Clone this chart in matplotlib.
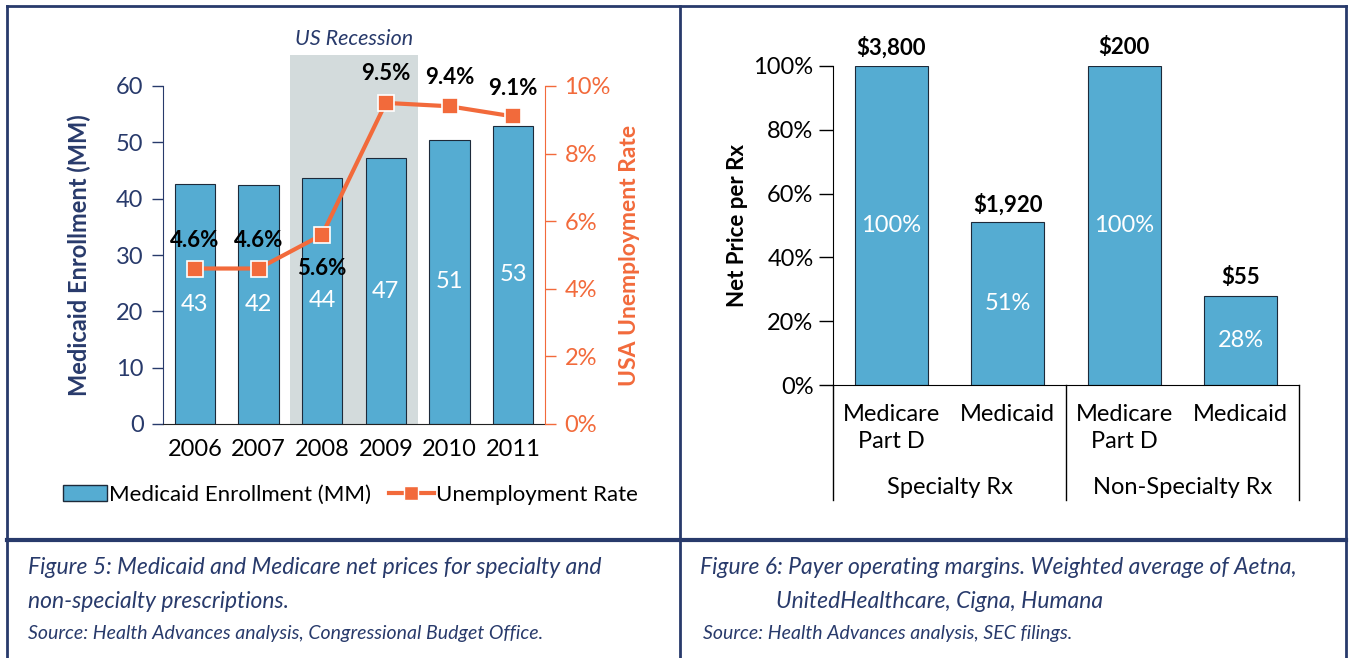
import matplotlib
matplotlib.use("Agg")
import matplotlib.pyplot as plt
from matplotlib.lines import Line2D
from matplotlib.patches import Rectangle
import matplotlib.transforms as mtransforms

plt.rcParams["font.family"] = ["Lato", "DejaVu Sans"]

# ---- data: figure 5 (left) ----
YEARS = ["2006", "2007", "2008", "2009", "2010", "2011"]
ENROLLMENT_MM = [42.6, 42.4, 43.7, 47.2, 50.5, 52.9]
ENROLLMENT_LABELS = ["43", "42", "44", "47", "51", "53"]
UNEMPLOYMENT = [4.6, 4.6, 5.6, 9.5, 9.4, 9.1]
UNEMP_LABEL_OFFSET = [20, 20, -24, 21, 21, 20]  # points, + above marker, - below
RECESSION_SPAN = (1.5, 3.5)

# ---- data: figure 6 (right) ----
PAYERS = ["Medicare\nPart D", "Medicaid", "Medicare\nPart D", "Medicaid"]
NET_PRICE_PCT = [100, 51, 100, 28]
PRICE_LABELS = ["$3,800", "$1,920", "$200", "$55"]
GROUPS = ["Specialty Rx", "Non-Specialty Rx"]

NAVY = "#283A6B"
BLUE = "#55ACD2"
ORANGE = "#F26A3B"
GREY_BAND = "#D3DBDC"

W, H = 1351, 658
fig = plt.figure(figsize=(W / 100, H / 100), dpi=100)


def px_axes(x0, y0, x1, y1):
    return fig.add_axes([x0 / W, 1 - y1 / H, (x1 - x0) / W, (y1 - y0) / H])


# ================= left panel =================
ax = px_axes(163, 86, 545, 424)
x = list(range(len(YEARS)))
ax.axvspan(*RECESSION_SPAN, ymin=0, ymax=(424 - 55) / (424 - 86), color=GREY_BAND,
           zorder=0, clip_on=False, lw=0)
ax.text(sum(RECESSION_SPAN) / 2, (424 - 39) / (424 - 86), "US Recession",
        transform=ax.get_xaxis_transform(), ha="center", va="center", style="italic",
        fontsize=15.5, color=NAVY)
ax.bar(x, ENROLLMENT_MM, width=0.63, color=BLUE, edgecolor="#1d2a3a", linewidth=0.8,
       zorder=2)
for xi, v, lab in zip(x, ENROLLMENT_MM, ENROLLMENT_LABELS):
    ax.text(xi, v / 2, lab, ha="center", va="center", color="white", fontsize=17, zorder=3)
ax.set_xlim(-0.5, len(YEARS) - 0.5)
ax.set_ylim(0, 60)
ax.set_yticks(range(0, 61, 10))
ax.set_xticks(x)
ax.set_xticklabels(YEARS, fontsize=17, color="black")
ax.tick_params(axis="x", length=0, pad=11)
ax.tick_params(axis="y", colors=NAVY, labelsize=17, length=8, width=1, direction="out", pad=6)
for s in ["top", "right"]:
    ax.spines[s].set_visible(False)
ax.spines["left"].set_color(NAVY)
ax.spines["bottom"].set_color("#222222")
ax.set_ylabel("Medicaid Enrollment (MM)", fontsize=17, fontweight="bold", color=NAVY,
              labelpad=18)

ax2 = ax.twinx()
ax2.plot(x, UNEMPLOYMENT, color=ORANGE, lw=3, marker="s", markersize=11,
         markerfacecolor=ORANGE, markeredgecolor="white", markeredgewidth=1.2, zorder=4)
for xi, v, off in zip(x, UNEMPLOYMENT, UNEMP_LABEL_OFFSET):
    ax2.annotate(f"{v:.1f}%", (xi, v), xytext=(0, off), textcoords="offset points",
                 ha="center", va="center", fontsize=16, fontweight="bold", color="black")
ax2.set_ylim(0, 10)
ax2.set_yticks(range(0, 11, 2))
ax2.set_yticklabels([f"{t}%" for t in range(0, 11, 2)])
ax2.tick_params(axis="y", colors=ORANGE, labelsize=17, length=8, width=1, pad=6)
for s in ["top", "left", "bottom"]:
    ax2.spines[s].set_visible(False)
ax2.spines["right"].set_color(ORANGE)
ax2.set_ylabel("USA Unemployment Rate", fontsize=16.5, fontweight="bold", color=ORANGE,
               labelpad=6)

handles = [
    Rectangle((0, 0), 1, 1, facecolor=BLUE, edgecolor="#1d2a3a", linewidth=1),
    Line2D([0], [0], color=ORANGE, lw=3, marker="s", markersize=10,
           markerfacecolor=ORANGE, markeredgecolor="white"),
]
ax.legend(handles, ["Medicaid Enrollment (MM)", "Unemployment Rate"], loc="center",
          bbox_to_anchor=(0.49, -0.21), ncol=2, frameon=False, fontsize=16,
          handlelength=2.0, handletextpad=0.1, columnspacing=0.8)

# ================= right panel =================
bx = px_axes(833, 66, 1299, 385)
xr = list(range(len(PAYERS)))
bx.bar(xr, NET_PRICE_PCT, width=0.63, color=BLUE, edgecolor="#1d2a3a", linewidth=0.8,
       zorder=2)
for xi, v, lab in zip(xr, NET_PRICE_PCT, PRICE_LABELS):
    bx.text(xi, v / 2, f"{v}%", ha="center", va="center", color="white", fontsize=17)
    bx.annotate(lab, (xi, v), xytext=(0, 13), textcoords="offset points", ha="center",
                va="center", fontsize=16, fontweight="bold", color="black")
bx.set_xlim(-0.5, len(PAYERS) - 0.5)
bx.set_ylim(0, 100)
bx.set_yticks(range(0, 101, 20))
bx.set_yticklabels([f"{t}%" for t in range(0, 101, 20)])
bx.tick_params(axis="y", labelsize=17, length=10, width=1, pad=4, colors="black")
bx.set_xticks(xr)
bx.set_xticklabels(PAYERS, fontsize=17, linespacing=1.35, va="top")
bx.tick_params(axis="x", length=0, pad=14)
for s in ["top", "right"]:
    bx.spines[s].set_visible(False)
bx.set_ylabel("Net Price per Rx", fontsize=16, fontweight="bold", color="black", labelpad=4)

trans = mtransforms.blended_transform_factory(bx.transData, bx.transAxes)
depth = -(500 - 385) / (385 - 66)
for gx in [-0.5, 1.5, 3.5]:
    bx.plot([gx, gx], [0, depth], transform=trans, color="black", lw=1, clip_on=False)
for gi, g in enumerate(GROUPS):
    bx.text(gi * 2 + 0.5, -(488 - 385) / (385 - 66), g, transform=trans, ha="center",
            va="center", fontsize=17)

# ================= frame and captions =================
frame = dict(color=NAVY, lw=2, transform=fig.transFigure, clip_on=False)
fig.add_artist(Line2D([7 / W, 1346 / W], [1 - 6 / H, 1 - 6 / H], **frame))
fig.add_artist(Line2D([7 / W, 7 / W], [1 - 6 / H, 0], **frame))
fig.add_artist(Line2D([680 / W, 680 / W], [1 - 6 / H, 0], **frame))
fig.add_artist(Line2D([1346 / W, 1346 / W], [1 - 6 / H, 0], **frame))
fig.add_artist(Line2D([7 / W, 1346 / W], [1 - 540 / H, 1 - 540 / H], color=NAVY, lw=3,
                      transform=fig.transFigure))

cap = dict(style="italic", color=NAVY, ha="left", va="center", transform=fig.transFigure)
fig.text(28 / W, 1 - 568 / H, "Figure 5: Medicaid and Medicare net prices for specialty and",
         fontsize=16.5, **cap)
fig.text(28 / W, 1 - 602 / H, "non-specialty prescriptions.", fontsize=16.5, **cap)
fig.text(28 / W, 1 - 634 / H, "Source: Health Advances analysis, Congressional Budget Office.",
         fontsize=14, **cap)
fig.text(700 / W, 1 - 568 / H, "Figure 6: Payer operating margins. Weighted average of Aetna,",
         fontsize=16.5, **cap)
fig.text(776 / W, 1 - 602 / H, "UnitedHealthcare, Cigna, Humana", fontsize=16.5, **cap)
fig.text(703 / W, 1 - 634 / H, "Source: Health Advances analysis, SEC filings.",
         fontsize=14, **cap)

fig.savefig("out.png", dpi=100)
